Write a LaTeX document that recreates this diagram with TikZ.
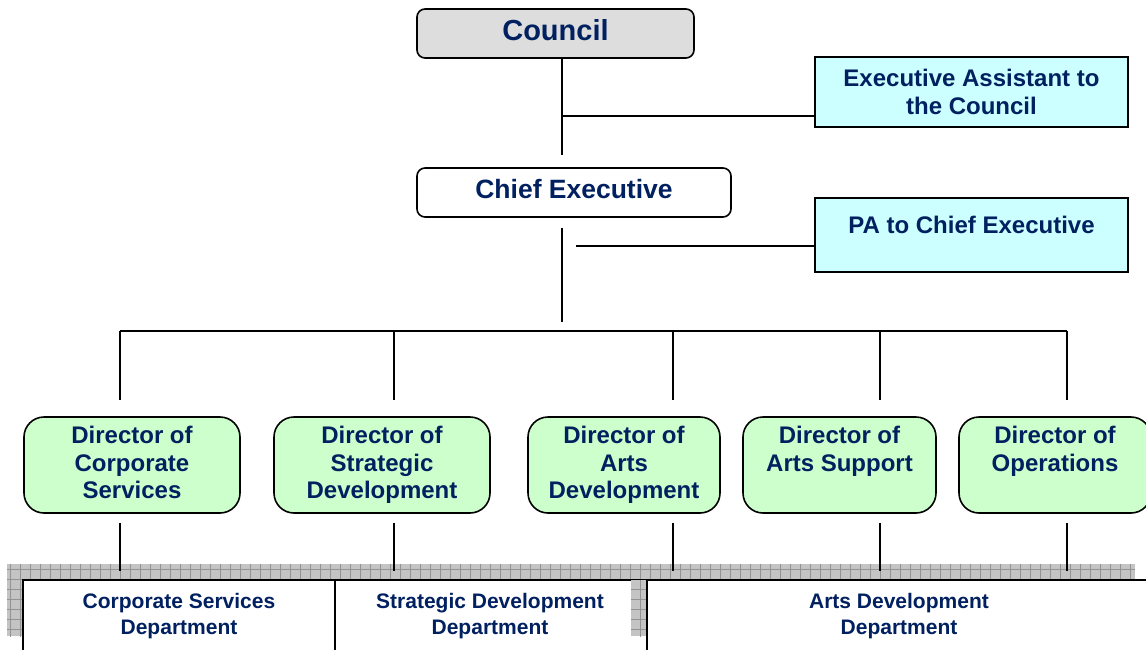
\documentclass[tikz,border=0pt]{standalone}
\usepackage{fontspec}
\setmainfont{Liberation Sans}
\usetikzlibrary{patterns.meta}
\definecolor{councilgray}{RGB}{221,221,221}
\definecolor{assistcyan}{RGB}{204,255,255}
\definecolor{directorgreen}{RGB}{204,255,204}
\definecolor{labelnavy}{RGB}{0,32,96}
\definecolor{shadowgray}{RGB}{196,196,196}
\newcommand\bottomstrut[1]{\rule[-#1]{0pt}{#1}}
\tikzset{
  plainbox/.style={draw, line width=1.6pt, inner sep=0pt, align=center, text=labelnavy,
    font=\bfseries\fontsize{24}{27.5}\selectfont},
  orgbox/.style={plainbox, execute at end node=\bottomstrut{0.21em}},
  councilbox/.style={plainbox, rounded corners=8pt, fill=councilgray, minimum width=277, minimum height=49,
    font=\bfseries\fontsize{29}{32}\selectfont, execute at end node=\bottomstrut{0.21em}},
  chiefbox/.style={plainbox, rounded corners=8pt, fill=white, minimum width=314, minimum height=49,
    font=\bfseries\fontsize{26.5}{30}\selectfont, execute at end node=\bottomstrut{0.29em}},
  assistbox/.style={plainbox, fill=assistcyan, minimum width=313},
  directorbox/.style={orgbox, rounded corners=20pt, fill=directorgreen, minimum height=96},
  deptbox/.style={orgbox, fill=white, minimum height=72, font=\bfseries\fontsize{21}{26}\selectfont},
  link/.style={line width=1.5pt},
  shade/.style={fill=shadowgray, postaction={pattern={Hatch[distance=10pt, line width=0.5pt]}, pattern color=gray!85}}
}
\begin{document}
\begin{tikzpicture}[x=1pt, y=-1pt]
    \useasboundingbox (0,0) rectangle (1146,649);
    \clip (0,0) rectangle (1146,649);

    % top of the chart
    \node[councilbox] (council) at (555.5,33.5) {Council};
    \node[chiefbox] (chief) at (574,192.5) {Chief Executive};
    \node[assistbox, minimum height=70] (assistant) at (971.5,92) {Executive Assistant to\\the Council};
    \node[assistbox, minimum height=74, execute at end node=\bottomstrut{0.85em}] (pa) at (971.5,235) {PA to Chief Executive};

    \coordinate (spinetop) at (562,155);
    \coordinate (assistjoin) at (562,116);
    \coordinate (spinebottom) at (562,322);
    \coordinate (pajoin) at (576,246);
    \draw[link] (council.south -| spinetop) -- (spinetop);
    \draw[link] (assistjoin) -- (assistjoin -| assistant.west);
    \draw[link, shorten <=10pt] (chief.south -| spinebottom) -- (spinebottom);
    \draw[link] (pajoin) -- (pajoin -| pa.west);

    % directors
    \node[directorbox, minimum width=216] (corporate) at (132,465) {Director of\\Corporate\\Services};
    \node[directorbox, minimum width=216] (strategic) at (382,465) {Director of\\Strategic\\Development};
    \node[directorbox, minimum width=192] (artsdev) at (624,465) {Director of\\Arts\\Development};
    \node[directorbox, minimum width=193] (artssupport) at (839.5,465) {Director of\\Arts Support\\~};
    \node[directorbox, minimum width=192] (operations) at (1055,465) {Director of\\Operations\\~};

    % shadow band behind the departments
    \coordinate (bandline) at (0,571);
    \fill[shade] (7,564) rectangle (1135,580);
    \fill[shade] (7,580) rectangle (23,636);

    \foreach \n/\x in {corporate/120, strategic/394, artsdev/673, artssupport/880, operations/1067} {
        \coordinate (tap-\n) at (\x,331);
        \draw[link, shorten >=16pt] (tap-\n) -- (tap-\n |- \n.north);
        \draw[link, shorten <=9pt] (tap-\n |- \n.south) -- (tap-\n |- bandline);
    }
    \draw[link] (tap-corporate) -- (tap-operations);

    % departments
    \node[deptbox, minimum width=312] (corpdept) at (179,616) {Corporate Services\\Department};
    \node[deptbox, minimum width=310] (stratdept) at (490,616) {Strategic Development\\Department};
    \fill[white] (631,636) rectangle (647,652);
    \fill[shade] (631,580) rectangle (647,636);
    \node[deptbox, minimum width=504] (artsdept) at (899,616) {Arts Development\\Department};
\end{tikzpicture}
\end{document}
